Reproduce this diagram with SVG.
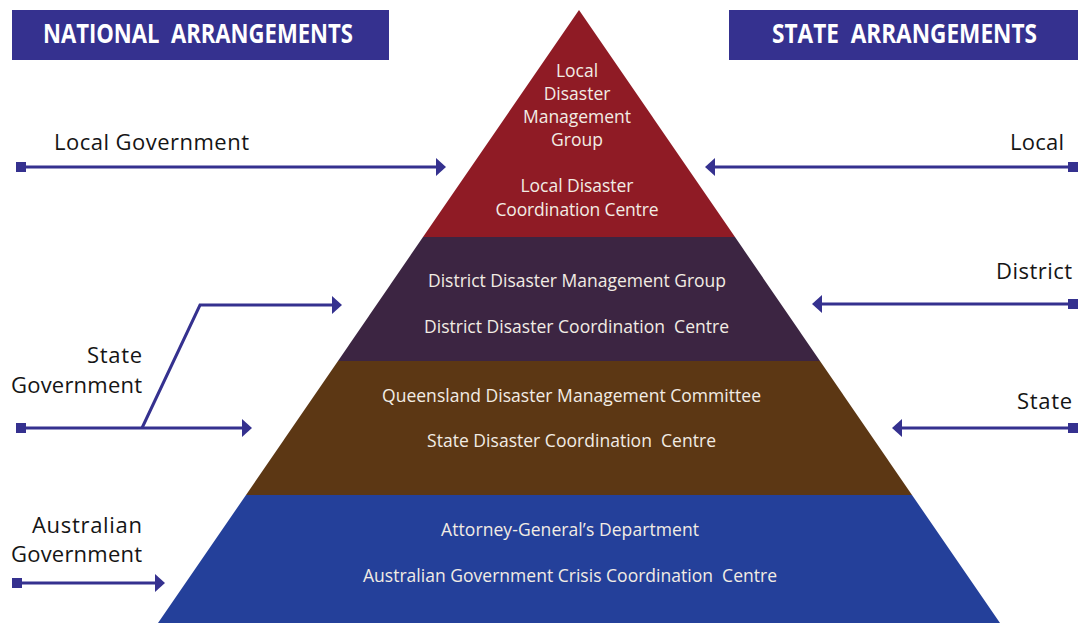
<svg xmlns="http://www.w3.org/2000/svg" width="1078" height="623" viewBox="0 0 1078 623">
  <style>
    .hdr { fill: #35318F; }
    .hdrtxt { font-family: "Open Sans", "Liberation Sans", sans-serif; font-weight: 700; font-size: 26px; fill: #ffffff; white-space: pre; }
    .lbl { font-family: "Open Sans", "Liberation Sans", sans-serif; font-size: 22px; fill: #151515; }
    .ptxt { font-family: "Open Sans", "Liberation Sans", sans-serif; font-size: 17.5px; fill: #F2ECE4; text-anchor: middle; white-space: pre; }
    .conn { fill: none; stroke: #35318F; stroke-width: 3; }
  </style>
  <defs>
    <marker id="arr" viewBox="0 0 10 18" refX="1" refY="9" markerWidth="10" markerHeight="18" orient="auto" markerUnits="userSpaceOnUse">
      <path d="M0,0 L10,9 L0,18 Z" fill="#35318F"/>
    </marker>
    <marker id="sq" viewBox="0 0 10 10" refX="5" refY="5" markerWidth="10" markerHeight="10" orient="auto" markerUnits="userSpaceOnUse">
      <rect x="0" y="0" width="10" height="10" fill="#35318F"/>
    </marker>
  </defs>

  <rect width="1078" height="623" fill="#ffffff"/>

  <g id="header-national">
    <rect class="hdr" x="12" y="10" width="377" height="50"/>
    <text class="hdrtxt" x="43" y="43" textLength="310" lengthAdjust="spacingAndGlyphs">NATIONAL  ARRANGEMENTS</text>
  </g>
  <g id="header-state">
    <rect class="hdr" x="729" y="10" width="349" height="50"/>
    <text class="hdrtxt" x="772" y="43" textLength="265" lengthAdjust="spacingAndGlyphs">STATE  ARRANGEMENTS</text>
  </g>

  <g id="tier-local">
    <polygon points="579,10 735,237 423,237" fill="#8F1B25"/>
    <text class="ptxt" x="577" y="77">Local</text>
    <text class="ptxt" x="577" y="100">Disaster</text>
    <text class="ptxt" x="577" y="123" textLength="108">Management</text>
    <text class="ptxt" x="577" y="146">Group</text>
    <text class="ptxt" x="577" y="192" textLength="113">Local Disaster</text>
    <text class="ptxt" x="577" y="216" textLength="163">Coordination Centre</text>
  </g>
  <g id="tier-district">
    <polygon points="423,237 735,237 820,361 338,361" fill="#3C2542"/>
    <text class="ptxt" x="577" y="287" textLength="298">District Disaster Management Group</text>
    <text class="ptxt" x="576.5" y="333" textLength="305">District Disaster Coordination  Centre</text>
  </g>
  <g id="tier-state">
    <polygon points="338,361 820,361 912,495 246,495" fill="#5C3714"/>
    <text class="ptxt" x="571.5" y="402" textLength="379">Queensland Disaster Management Committee</text>
    <text class="ptxt" x="571.5" y="447" textLength="289">State Disaster Coordination  Centre</text>
  </g>
  <g id="tier-australian">
    <polygon points="246,495 912,495 1000,623 158,623" fill="#24409A"/>
    <text class="ptxt" x="570" y="536" textLength="258">Attorney-General’s Department</text>
    <text class="ptxt" x="570" y="582" textLength="414">Australian Government Crisis Coordination  Centre</text>
  </g>

  <g id="label-local-government">
    <text class="lbl" x="54" y="150" textLength="195">Local Government</text>
  </g>
  <g id="label-state-government">
    <text class="lbl" x="142" y="363" text-anchor="end" textLength="55">State</text>
    <text class="lbl" x="142" y="393" text-anchor="end" textLength="131">Government</text>
  </g>
  <g id="label-australian-government">
    <text class="lbl" x="142" y="533" text-anchor="end" textLength="110">Australian</text>
    <text class="lbl" x="142" y="562" text-anchor="end" textLength="131">Government</text>
  </g>
  <g id="label-local">
    <text class="lbl" x="1064" y="150" text-anchor="end" textLength="54">Local</text>
  </g>
  <g id="label-district">
    <text class="lbl" x="1072" y="279" text-anchor="end" textLength="76">District</text>
  </g>
  <g id="label-state">
    <text class="lbl" x="1072" y="409" text-anchor="end" textLength="55">State</text>
  </g>

  <g id="connectors">
    <path class="conn" d="M21,167 H437" marker-start="url(#sq)" marker-end="url(#arr)"/>
    <path class="conn" d="M21,428 H243" marker-start="url(#sq)" marker-end="url(#arr)"/>
    <path class="conn" d="M142,428 L200,305 H333" marker-end="url(#arr)"/>
    <path class="conn" d="M17,583 H156" marker-start="url(#sq)" marker-end="url(#arr)"/>
    <path class="conn" d="M1073,167 H714" marker-start="url(#sq)" marker-end="url(#arr)"/>
    <path class="conn" d="M1073,304 H821" marker-start="url(#sq)" marker-end="url(#arr)"/>
    <path class="conn" d="M1073,428 H901" marker-start="url(#sq)" marker-end="url(#arr)"/>
  </g>
</svg>
